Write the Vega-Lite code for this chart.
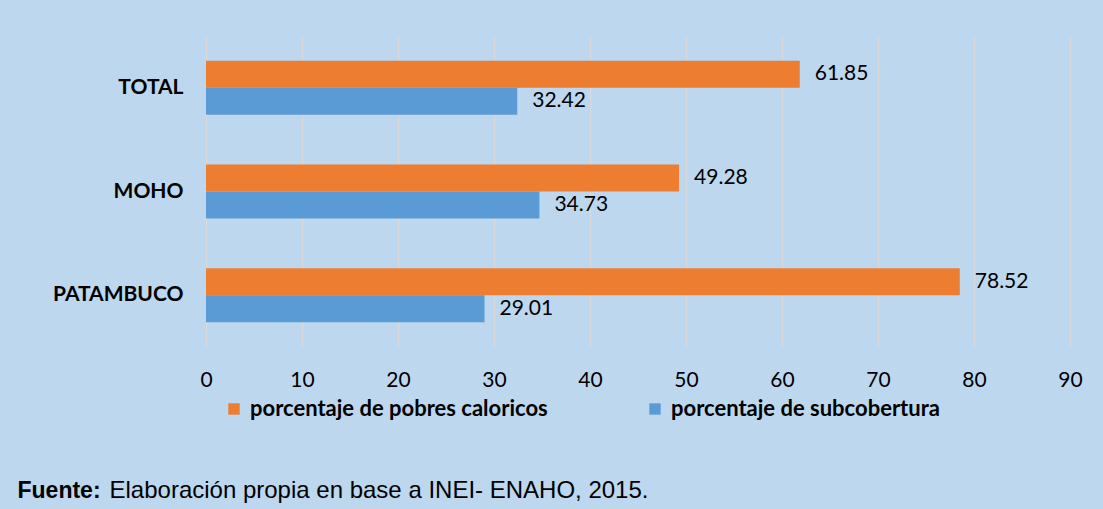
{
  "$schema": "https://vega.github.io/schema/vega-lite/v6.json",
  "width": 864,
  "height": 311,
  "autosize": {"type": "none"},
  "padding": {"left": 206, "top": 36, "right": 33, "bottom": 162},
  "background": "#BDD7EE",
  "config": {"view": {"stroke": null}, "font": "Lato"},
  "data": {
    "values": [
      {"zona": "TOTAL", "serie": "porcentaje de pobres caloricos", "valor": 61.85},
      {"zona": "TOTAL", "serie": "porcentaje de subcobertura", "valor": 32.42},
      {"zona": "MOHO", "serie": "porcentaje de pobres caloricos", "valor": 49.28},
      {"zona": "MOHO", "serie": "porcentaje de subcobertura", "valor": 34.73},
      {"zona": "PATAMBUCO", "serie": "porcentaje de pobres caloricos", "valor": 78.52},
      {"zona": "PATAMBUCO", "serie": "porcentaje de subcobertura", "valor": 29.01}
    ]
  },
  "encoding": {
    "y": {
      "field": "zona",
      "type": "nominal",
      "sort": ["TOTAL", "MOHO", "PATAMBUCO"],
      "scale": {"paddingInner": 0.479, "paddingOuter": 0.2395},
      "axis": {
        "domain": false,
        "ticks": false,
        "grid": false,
        "labelFont": "Lato",
        "labelFontWeight": "bold",
        "labelFontSize": 21,
        "labelColor": "#000000",
        "labelPadding": 23,
        "title": "Elaboración propia en base a INEI- ENAHO, 2015.",
        "titleFont": "Liberation Sans",
        "titleFontWeight": "normal",
        "titleFontSize": 24,
        "titleColor": "#000000",
        "titleAngle": 0,
        "titleAlign": "left",
        "titleBaseline": "alphabetic",
        "titleX": -97,
        "titleY": 461
      }
    },
    "yOffset": {
      "field": "serie",
      "type": "nominal",
      "sort": ["porcentaje de pobres caloricos", "porcentaje de subcobertura"]
    },
    "x": {
      "field": "valor",
      "type": "quantitative",
      "scale": {"domain": [0, 90], "nice": false},
      "axis": {
        "values": [0, 10, 20, 30, 40, 50, 60, 70, 80, 90],
        "domain": false,
        "ticks": false,
        "grid": true,
        "gridColor": "#D9D9D9",
        "gridWidth": 1.3,
        "labelFlush": false,
        "labelFont": "Lato",
        "labelFontSize": 21,
        "labelColor": "#000000",
        "labelBaseline": "alphabetic",
        "labelPadding": 39,
        "title": "Fuente:",
        "titleFont": "Liberation Sans",
        "titleFontWeight": "bold",
        "titleFontSize": 23,
        "titleColor": "#000000",
        "titleAlign": "left",
        "titleBaseline": "alphabetic",
        "titleX": -189,
        "titleY": 150
      }
    }
  },
  "layer": [
    {
      "mark": {"type": "bar"},
      "encoding": {
        "color": {
          "field": "serie",
          "type": "nominal",
          "scale": {
            "domain": ["porcentaje de pobres caloricos", "porcentaje de subcobertura"],
            "range": ["#ED7D31", "#5B9BD5"]
          },
          "legend": {
            "orient": "none",
            "legendX": 17,
            "legendY": 362,
            "direction": "horizontal",
            "title": null,
            "labelFont": "Lato",
            "labelFontWeight": "bold",
            "labelFontSize": 22,
            "labelColor": "#000000",
            "labelLimit": 500,
            "symbolType": "square",
            "symbolSize": 130,
            "symbolStrokeWidth": 0,
            "labelOffset": 5,
            "columnPadding": 96
          }
        }
      }
    },
    {
      "mark": {"type": "text", "align": "left", "baseline": "middle", "dx": 15, "fontSize": 21, "font": "Lato", "color": "#000000"},
      "encoding": {"text": {"field": "valor", "type": "quantitative", "format": ".2f"}}
    }
  ]
}
